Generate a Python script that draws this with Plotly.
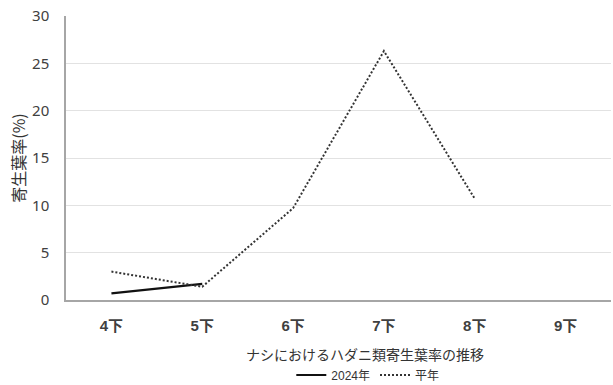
import plotly.graph_objects as go

# 調査時期（半旬）
periods = ["4下", "5下", "6下", "7下", "8下", "9下"]
# 寄生葉率(%)
rate_2024 = [0.7, 1.7, None, None, None, None]
rate_normal = [3.0, 1.4, 9.7, 26.3, 10.7, None]

y_ticks = [0, 5, 10, 15, 20, 25, 30]

jp_font = "Noto Sans CJK JP, sans-serif"
num_font = "Noto Sans, Noto Sans CJK JP, sans-serif"
tick_font = "Liberation Sans, Noto Sans CJK JP, sans-serif"

fig = go.Figure()
fig.add_trace(go.Scatter(
    x=periods, y=rate_2024, name="2024年", mode="lines",
    line=dict(color="#111111", width=2.2),
))
fig.add_trace(go.Scatter(
    x=periods, y=rate_normal, name="平年", mode="lines",
    line=dict(color="#333333", width=2, dash="2px,2px"),
))

fig.update_layout(
    width=613, height=385,
    margin=dict(l=66, r=2, t=16, b=85, autoexpand=False),
    paper_bgcolor="white", plot_bgcolor="white",
    font=dict(family=jp_font, color="#404040", size=13),
    showlegend=True,
    legend=dict(
        orientation="h", xref="container", yref="container",
        x=0.6, xanchor="center", y=0.026, yanchor="middle",
        font=dict(family=tick_font, size=12, color="#333333"),
        traceorder="normal", entrywidth=0, tracegroupgap=0,
        bgcolor="rgba(0,0,0,0)",
    ),
    xaxis=dict(
        type="category", range=[-0.5, 5.5],
        showline=True, linecolor="#a6a6a6", linewidth=1.5,
        showgrid=False, ticks="",
        tickfont=dict(family=tick_font, size=15, color="#404040", weight="bold"),
        ticklabelstandoff=11,
    ),
    yaxis=dict(
        range=[0, 30], tickvals=y_ticks,
        showline=True, linecolor="#a6a6a6", linewidth=1.5,
        showgrid=True, gridcolor="#e2e2e2", gridwidth=1,
        zeroline=False, ticks="",
        tickfont=dict(family=num_font, size=15, color="#404040"),
        ticklabelstandoff=12,
        title=dict(text="寄生葉率(%)", font=dict(family=jp_font, size=16, color="#333333"), standoff=2),
    ),
    annotations=[dict(
        text="ナシにおけるハダニ類寄生葉率の推移",
        xref="paper", yref="paper", x=0.549, y=-0.19,
        xanchor="center", yanchor="middle", showarrow=False,
        font=dict(family=jp_font, size=14, color="#333333"),
    )],
)

fig.write_html("out.html")
